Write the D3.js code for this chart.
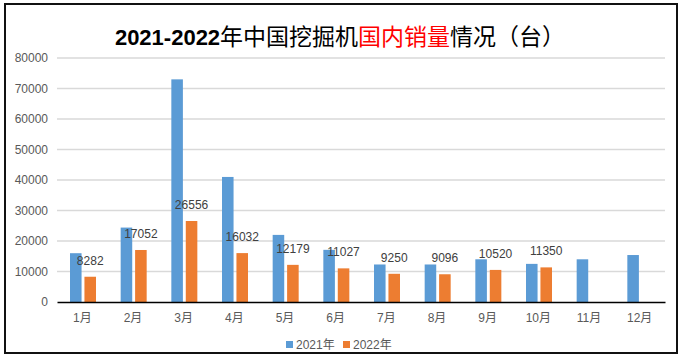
<!DOCTYPE html>
<html><head><meta charset="utf-8">
<script src="https://cdn.jsdelivr.net/npm/d3@7"></script>
<style>body{margin:0;background:#fff;} svg{display:block;}</style>
</head><body>
<svg id="c" width="680" height="356"></svg>
<script>
const months = ["1月","2月","3月","4月","5月","6月","7月","8月","9月","10月","11月","12月"];
const seriesNames = ["2021年","2022年"];
const values2021 = [16000, 24400, 73000, 41000, 22000, 17100, 12300, 12300, 14000, 12500, 14000, 15400];
const values2022 = [8282, 17052, 26556, 16032, 12179, 11027, 9250, 9096, 10520, 11350, null, null];
const yTicks = [0,10000,20000,30000,40000,50000,60000,70000,80000];
const colors = ["#5b9bd5","#ed7d31"];

const svg = d3.select("#c");
// frame
svg.append("rect").attr("x",5).attr("y",4).attr("width",672).attr("height",349)
  .attr("fill","#fff").attr("stroke","#111").attr("stroke-width",2);

// title
const title = svg.append("text").attr("x",340).attr("y",45).attr("text-anchor","middle")
  .attr("font-size",23).attr("fill","#000").attr("font-family","'Noto Sans CJK SC', sans-serif");
title.append("tspan").text("2021-2022").attr("font-weight","bold").attr("font-family","'Liberation Sans', sans-serif").attr("font-size",22);
title.append("tspan").text("年中国挖掘机");
title.append("tspan").text("国内销量").attr("fill","#ff0000");
title.append("tspan").text("情况（台）");

const x = d3.scaleBand().domain(months).range([57,665]).padding(0);
const x1 = d3.scaleBand().domain(seriesNames).range([13,39]).paddingInner(0.2);
const y = d3.scaleLinear().domain([0,80000]).range([302,58]);

// gridlines
svg.append("g").selectAll("line").data(yTicks.filter(d=>d>0)).join("line")
  .attr("x1",57).attr("x2",665).attr("y1",d=>y(d)).attr("y2",d=>y(d))
  .attr("stroke","#d9d9d9").attr("stroke-width",1.3);

// y axis labels
const yAxis = d3.axisLeft(y).tickValues(yTicks).tickSize(0).tickPadding(9).tickFormat(d3.format("d"));
const gy = svg.append("g").attr("transform","translate(57,0)").call(yAxis);
gy.select(".domain").remove();
gy.selectAll("text").attr("font-family","'Liberation Sans', sans-serif").attr("font-size",12).attr("fill","#595959");

// bars
const data = months.map((m,i)=>({m, vals:[values2021[i], values2022[i]]}));
const groups = svg.append("g").selectAll("g").data(data).join("g")
  .attr("transform",d=>`translate(${x(d.m)},0)`);
groups.selectAll("rect").data(d=>d.vals.map((v,j)=>({v,s:seriesNames[j],j})).filter(o=>o.v!=null)).join("rect")
  .attr("x",o=>x1(o.s)).attr("width",x1.bandwidth())
  .attr("y",o=>y(o.v)).attr("height",o=>y(0)-y(o.v))
  .attr("fill",o=>colors[o.j]);

// data labels (2022)
groups.selectAll("text.lbl").data(d=>d.vals[1]!=null?[d.vals[1]]:[]).join("text")
  .attr("class","lbl")
  .attr("x",x1("2022年")+x1.bandwidth()/2).attr("y",v=>y(v)-12)
  .attr("text-anchor","middle").attr("font-family","'Liberation Sans', sans-serif")
  .attr("font-size",12).attr("fill","#404040").text(v=>v);

// x axis
const xAxis = d3.axisBottom(x).tickSize(0).tickPadding(11);
const gx = svg.append("g").attr("transform","translate(0,302)").call(xAxis);
gx.select(".domain").attr("stroke","#000").attr("stroke-width",1.6);
gx.selectAll("text").attr("font-family","'Liberation Sans','Noto Sans CJK SC', sans-serif").attr("font-size",12).attr("fill","#595959");

// legend
const leg = svg.append("g");
const legX = [286, 343];
seriesNames.forEach((s,i)=>{
  leg.append("rect").attr("x",legX[i]).attr("y",341).attr("width",7).attr("height",7).attr("fill",colors[i]);
  leg.append("text").attr("x",legX[i]+10).attr("y",348.5).attr("font-family","'Liberation Sans','Noto Sans CJK SC', sans-serif")
    .attr("font-size",12).attr("fill","#595959").text(s);
});
</script>
</body></html>
